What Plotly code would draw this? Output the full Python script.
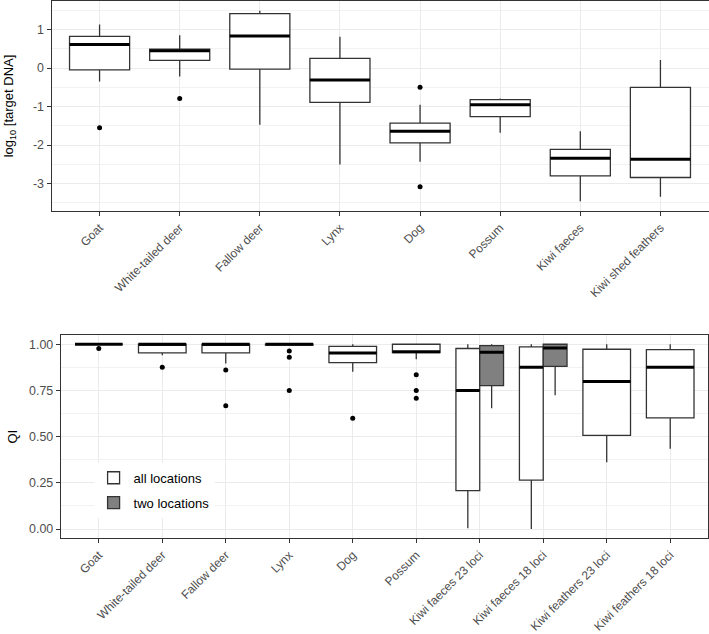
import plotly.graph_objects as go

# ---------------- data: top panel (log10 target DNA) ----------------
top_categories = ["Goat", "White-tailed deer", "Fallow deer", "Lynx", "Dog",
                  "Possum", "Kiwi faeces", "Kiwi shed feathers"]
top_lower = [-0.35, -0.22, -1.47, -2.50, -2.43, -1.68, -3.46, -3.34]
top_q1 = [-0.05, 0.20, -0.03, -0.89, -1.94, -1.26, -2.80, -2.84]
top_median = [0.61, 0.45, 0.83, -0.31, -1.64, -0.95, -2.34, -2.37]
top_q3 = [0.82, 0.49, 1.41, 0.25, -1.43, -0.82, -2.11, -0.50]
top_upper = [1.13, 0.85, 1.49, 0.81, -0.95, -0.79, -1.64, 0.21]
top_out_cat = ["Goat", "White-tailed deer", "Dog", "Dog"]
top_out_val = [-1.55, -0.79, -0.50, -3.08]
top_yticks = [1, 0, -1, -2, -3]
top_yticklabels = ["1", "0", "-1", "-2", "-3"]

# ---------------- data: bottom panel (QI) ----------------
bot_categories = ["Goat", "White-tailed deer", "Fallow deer", "Lynx", "Dog", "Possum",
                  "Kiwi faeces 23 loci", "Kiwi faeces 18 loci",
                  "Kiwi feathers 23 loci", "Kiwi feathers 18 loci"]
all_lower = [1.00, 0.94, 0.896, 0.993, 0.851, 0.919, 0.004, 0.0, 0.362, 0.434]
all_q1 = [1.00, 0.953, 0.953, 0.995, 0.901, 0.955, 0.208, 0.265, 0.507, 0.602]
all_median = [1.00, 1.00, 1.00, 1.00, 0.952, 0.960, 0.750, 0.876, 0.799, 0.876]
all_q3 = [1.00, 1.00, 1.00, 1.00, 0.988, 1.00, 0.977, 0.986, 0.973, 0.971]
all_upper = [1.00, 1.00, 1.00, 1.00, 1.00, 1.00, 1.00, 1.00, 1.00, 1.00]
two_categories = ["Kiwi faeces 23 loci", "Kiwi faeces 18 loci"]
two_lower = [0.654, 0.724]
two_q1 = [0.776, 0.880]
two_median = [0.957, 0.980]
two_q3 = [0.993, 1.00]
two_upper = [1.00, 1.00]
bot_out_cat = ["Goat", "White-tailed deer", "Fallow deer", "Fallow deer",
               "Lynx", "Lynx", "Lynx", "Dog", "Possum", "Possum", "Possum"]
bot_out_val = [0.977, 0.875, 0.86, 0.667, 0.964, 0.929, 0.75, 0.60, 0.835, 0.75, 0.708]

# ---------------- styling ----------------
LINE = "#333333"
GRID = "#ebebeb"
TICKC = "#4d4d4d"
FONT = "Liberation Sans, Arial, sans-serif"
BOXW = 0.75

fig = go.Figure()


def median_segments(xs, meds, w):
    X, Y = [], []
    for x, m in zip(xs, meds):
        X += [x - w / 2, x + w / 2, None]
        Y += [m, m, None]
    return X, Y


# top panel
tx = [top_categories.index(c) for c in top_categories]
fig.add_trace(go.Box(x=tx, q1=top_q1, median=top_median, q3=top_q3,
                     lowerfence=top_lower, upperfence=top_upper,
                     width=BOXW, whiskerwidth=0, fillcolor="white",
                     line=dict(color=LINE, width=1.3), boxpoints=False,
                     showlegend=False, xaxis="x", yaxis="y", hoverinfo="skip"))
mx, my = median_segments(tx, top_median, BOXW)
fig.add_trace(go.Scatter(x=mx, y=my, mode="lines", line=dict(color="black", width=3),
                         showlegend=False, xaxis="x", yaxis="y", hoverinfo="skip"))
fig.add_trace(go.Scatter(x=[top_categories.index(c) for c in top_out_cat], y=top_out_val,
                         mode="markers", marker=dict(color="black", size=5),
                         showlegend=False, xaxis="x", yaxis="y", hoverinfo="skip"))

# bottom panel
dodge = BOXW / 4
single_idx = [i for i, c in enumerate(bot_categories) if c not in two_categories]
dodged_idx = [i for i, c in enumerate(bot_categories) if c in two_categories]


def pick(arr, idx):
    return [arr[i] for i in idx]


fig.add_trace(go.Box(x=single_idx, q1=pick(all_q1, single_idx), median=pick(all_median, single_idx),
                     q3=pick(all_q3, single_idx), lowerfence=pick(all_lower, single_idx),
                     upperfence=pick(all_upper, single_idx),
                     width=BOXW, whiskerwidth=0, fillcolor="white",
                     line=dict(color=LINE, width=1.3), boxpoints=False,
                     name="all locations", legendgroup="all", showlegend=True,
                     xaxis="x2", yaxis="y2", hoverinfo="skip"))
dx_all = [i - dodge for i in dodged_idx]
fig.add_trace(go.Box(x=dx_all, q1=pick(all_q1, dodged_idx), median=pick(all_median, dodged_idx),
                     q3=pick(all_q3, dodged_idx), lowerfence=pick(all_lower, dodged_idx),
                     upperfence=pick(all_upper, dodged_idx),
                     width=BOXW / 2, whiskerwidth=0, fillcolor="white",
                     line=dict(color=LINE, width=1.3), boxpoints=False,
                     name="all locations", legendgroup="all", showlegend=False,
                     xaxis="x2", yaxis="y2", hoverinfo="skip"))
dx_two = [bot_categories.index(c) + dodge for c in two_categories]
fig.add_trace(go.Box(x=dx_two, q1=two_q1, median=two_median, q3=two_q3,
                     lowerfence=two_lower, upperfence=two_upper,
                     width=BOXW / 2, whiskerwidth=0, fillcolor="#808080",
                     line=dict(color=LINE, width=1.3), boxpoints=False,
                     name="two locations", legendgroup="two", showlegend=True,
                     xaxis="x2", yaxis="y2", hoverinfo="skip"))
m1x, m1y = median_segments(single_idx, pick(all_median, single_idx), BOXW)
m2x, m2y = median_segments(dx_all, pick(all_median, dodged_idx), BOXW / 2)
m3x, m3y = median_segments(dx_two, two_median, BOXW / 2)
fig.add_trace(go.Scatter(x=m1x + m2x + m3x, y=m1y + m2y + m3y, mode="lines",
                         line=dict(color="black", width=3),
                         showlegend=False, xaxis="x2", yaxis="y2", hoverinfo="skip"))
fig.add_trace(go.Scatter(x=[bot_categories.index(c) for c in bot_out_cat], y=bot_out_val,
                         mode="markers", marker=dict(color="black", size=5),
                         showlegend=False, xaxis="x2", yaxis="y2", hoverinfo="skip"))

axis_common = dict(showline=True, mirror=True, linecolor=LINE, linewidth=1,
                   ticks="outside", ticklen=4, tickcolor=LINE, tickwidth=1,
                   showgrid=True, gridcolor=GRID, gridwidth=1.2, zeroline=False,
                   automargin=False)
ytick_font = dict(size=12.4, color=TICKC, family=FONT)
xtick_font = dict(size=12, color=TICKC, family=FONT)

fig.update_layout(
    width=709, height=634, autosize=False,
    margin=dict(l=0, r=0, t=0, b=0, pad=0),
    paper_bgcolor="white", plot_bgcolor="white",
    font=dict(family=FONT, color="black"),
    showlegend=True,
    legend=dict(x=0.132, y=0.270, xanchor="left", yanchor="top",
                bgcolor="white", font=dict(size=13, color="black", family=FONT),
                tracegroupgap=5, borderwidth=0),
    xaxis=dict(domain=[51.5 / 709, 708.5 / 709], anchor="y",
               range=[-0.6, len(top_categories) - 0.4],
               tickvals=list(range(len(top_categories))), ticktext=top_categories,
               tickangle=-45, tickfont=xtick_font, **axis_common),
    yaxis=dict(domain=[1 - 211 / 634, 1 - 1 / 634], anchor="x",
               range=[-3.71, 1.74],
               tickvals=top_yticks, ticktext=top_yticklabels, tickfont=ytick_font,
               minor=dict(dtick=0.5, tick0=0.5, showgrid=True, gridcolor="#f2f2f2", gridwidth=0.8, ticks=""),
               title=dict(text="log<sub>10</sub> [target DNA]", font=dict(size=13, family=FONT), standoff=16),
               **axis_common),
    xaxis2=dict(domain=[60.7 / 709, 708.3 / 709], anchor="y2",
                range=[-0.6, len(bot_categories) - 0.4],
                tickvals=list(range(len(bot_categories))), ticktext=bot_categories,
                tickangle=-45, tickfont=xtick_font, **axis_common),
    yaxis2=dict(domain=[1 - 538.3 / 634, 1 - 335 / 634], anchor="x2",
                range=[-0.05, 1.05],
                tickvals=[0, 0.25, 0.5, 0.75, 1.0], tickformat=".2f", tickfont=ytick_font,
                minor=dict(dtick=0.25, tick0=0.125, showgrid=True, gridcolor="#f2f2f2", gridwidth=0.8, ticks=""),
                title=dict(text="QI", font=dict(size=13, family=FONT), standoff=8),
                **axis_common),
)

post = ("document.body.style.margin='0px';document.body.style.padding='0px';"
        "document.body.style.overflow='hidden';"
        "var gd=document.getElementById('{plot_id}');"
        "Plotly.relayout(gd,{width:709,height:634});")
fig.write_html("out.html", config={"responsive": False, "displayModeBar": False},
               post_script=post)
